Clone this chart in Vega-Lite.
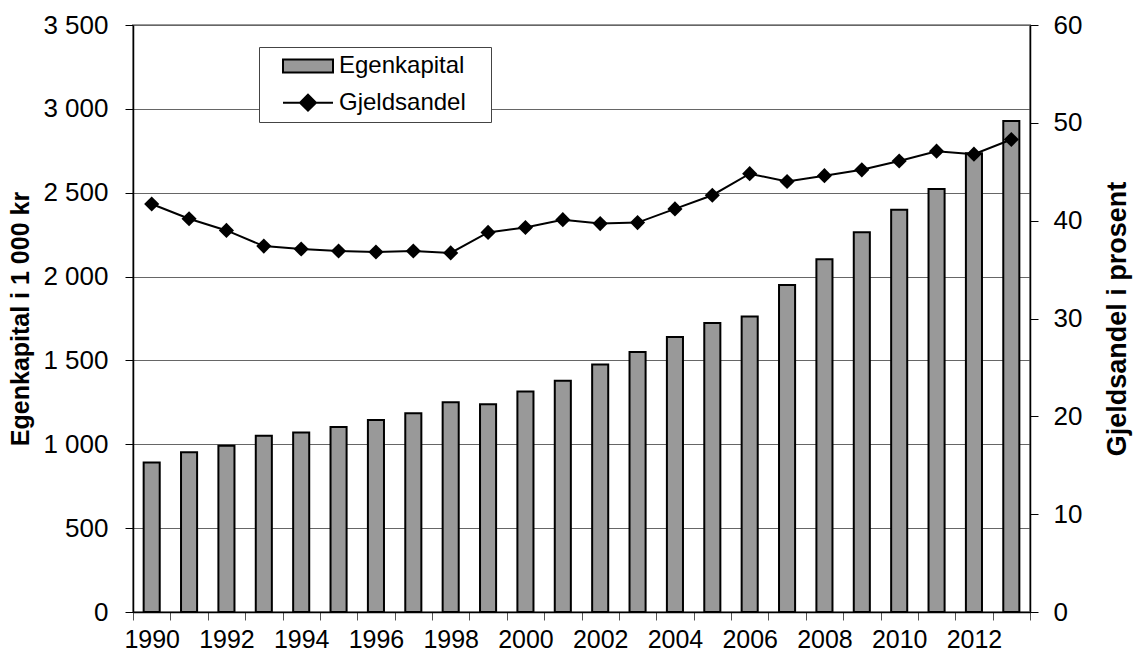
{
  "$schema": "https://vega.github.io/schema/vega-lite/v6.json",
  "width": 897,
  "height": 587,
  "autosize": {"type": "none"},
  "padding": {"left": 133, "top": 25, "right": 107, "bottom": 43},
  "background": "white",
  "config": {
    "font": "Liberation Sans",
    "view": {"stroke": "#999999", "strokeWidth": 2},
    "axis": {
      "labelFont": "Liberation Sans",
      "titleFont": "Liberation Sans",
      "labelColor": "black",
      "titleColor": "black",
      "domainColor": "black",
      "tickColor": "black",
      "labelFontSize": 26,
      "titleFontSize": 25,
      "titleFontWeight": "bold"
    },
    "legend": {"labelFont": "Liberation Sans"}
  },
  "data": {
    "values": [
      {"year": 1990, "egenkapital": 892, "gjeldsandel": 41.7},
      {"year": 1991, "egenkapital": 952, "gjeldsandel": 40.2},
      {"year": 1992, "egenkapital": 992, "gjeldsandel": 39.0},
      {"year": 1993, "egenkapital": 1051, "gjeldsandel": 37.4},
      {"year": 1994, "egenkapital": 1071, "gjeldsandel": 37.1},
      {"year": 1995, "egenkapital": 1103, "gjeldsandel": 36.9},
      {"year": 1996, "egenkapital": 1145, "gjeldsandel": 36.8},
      {"year": 1997, "egenkapital": 1185, "gjeldsandel": 36.9},
      {"year": 1998, "egenkapital": 1250, "gjeldsandel": 36.7},
      {"year": 1999, "egenkapital": 1238, "gjeldsandel": 38.8},
      {"year": 2000, "egenkapital": 1314, "gjeldsandel": 39.3},
      {"year": 2001, "egenkapital": 1379, "gjeldsandel": 40.1},
      {"year": 2002, "egenkapital": 1475, "gjeldsandel": 39.7},
      {"year": 2003, "egenkapital": 1550, "gjeldsandel": 39.8},
      {"year": 2004, "egenkapital": 1640, "gjeldsandel": 41.2},
      {"year": 2005, "egenkapital": 1723, "gjeldsandel": 42.6},
      {"year": 2006, "egenkapital": 1762, "gjeldsandel": 44.8},
      {"year": 2007, "egenkapital": 1950, "gjeldsandel": 44.0},
      {"year": 2008, "egenkapital": 2103, "gjeldsandel": 44.6},
      {"year": 2009, "egenkapital": 2264, "gjeldsandel": 45.2},
      {"year": 2010, "egenkapital": 2399, "gjeldsandel": 46.1},
      {"year": 2011, "egenkapital": 2522, "gjeldsandel": 47.1},
      {"year": 2012, "egenkapital": 2735, "gjeldsandel": 46.8},
      {"year": 2013, "egenkapital": 2928, "gjeldsandel": 48.3}
    ]
  },
  "layer": [
    {
      "mark": {"type": "bar", "stroke": "black", "strokeWidth": 2, "width": {"band": 0.43}},
      "encoding": {
        "x": {
          "field": "year",
          "type": "ordinal",
          "scale": {"paddingInner": 0, "paddingOuter": 0},
          "axis": {
            "title": null,
            "labelAngle": 0,
            "labelExpr": "datum.value % 2 == 0 ? datum.label : ''",
            "tickBand": "extent",
            "tickSize": 8,
            "tickColor": "#555555",
            "labelPadding": 7,
            "labelFontSize": 25,
            "domainWidth": 1.5
          }
        },
        "y": {
          "field": "egenkapital",
          "type": "quantitative",
          "scale": {"domain": [0, 3500]},
          "axis": {
            "title": "Egenkapital i 1 000 kr",
            "values": [0, 500, 1000, 1500, 2000, 2500, 3000, 3500],
            "labelExpr": "replace(format(datum.value, ','), ',', ' ')",
            "grid": true,
            "gridColor": "#666666",
            "gridWidth": 1,
            "tickSize": 8,
            "labelPadding": 17,
            "titlePadding": 9,
            "domainWidth": 1.5
          }
        },
        "color": {
          "datum": "Egenkapital",
          "type": "nominal",
          "scale": {"domain": ["Egenkapital", "Gjeldsandel"], "range": ["#999999", "#000000"]},
          "legend": {
            "title": null,
            "orient": "none",
            "legendX": 126,
            "legendY": 22,
            "padding": 7,
            "strokeColor": "#444444",
            "fillColor": "white",
            "labelFontSize": 24,
            "labelColor": "black",
            "labelLimit": 300,
            "symbolSize": 400,
            "symbolStrokeColor": "black",
            "symbolStrokeWidth": 2,
            "rowPadding": 12.7,
            "symbolOffset": 30,
            "labelOffset": 19,
            "encode": {
              "symbols": {
                "update": {
                  "shape": {"signal": "datum.value === 'Egenkapital' ? 'M-2.5,-0.65H2.5V0.65H-2.5Z' : 'M-2.5,0H2.5M0,-0.8L0.8,0L0,0.8L-0.8,0Z'"}
                }
              },
              "labels": {
                "update": {
                  "text": {"signal": "datum.label + '\u2800'"}
                }
              }
            }
          }
        }
      }
    },
    {
      "mark": {
        "type": "line",
        "color": "black",
        "strokeWidth": 2,
        "point": {"shape": "diamond", "size": 230, "filled": true, "color": "black"}
      },
      "encoding": {
        "x": {"field": "year", "type": "ordinal"},
        "y": {
          "field": "gjeldsandel",
          "type": "quantitative",
          "scale": {"domain": [0, 60]},
          "axis": {
            "orient": "right",
            "title": "Gjeldsandel i prosent",
            "titleAngle": 270,
            "titleFontSize": 27,
            "values": [0, 10, 20, 30, 40, 50, 60],
            "grid": false,
            "tickSize": 8,
            "labelPadding": 15,
            "titlePadding": 50,
            "domainWidth": 1.5
          }
        }
      }
    }
  ],
  "resolve": {"scale": {"y": "independent"}}
}
